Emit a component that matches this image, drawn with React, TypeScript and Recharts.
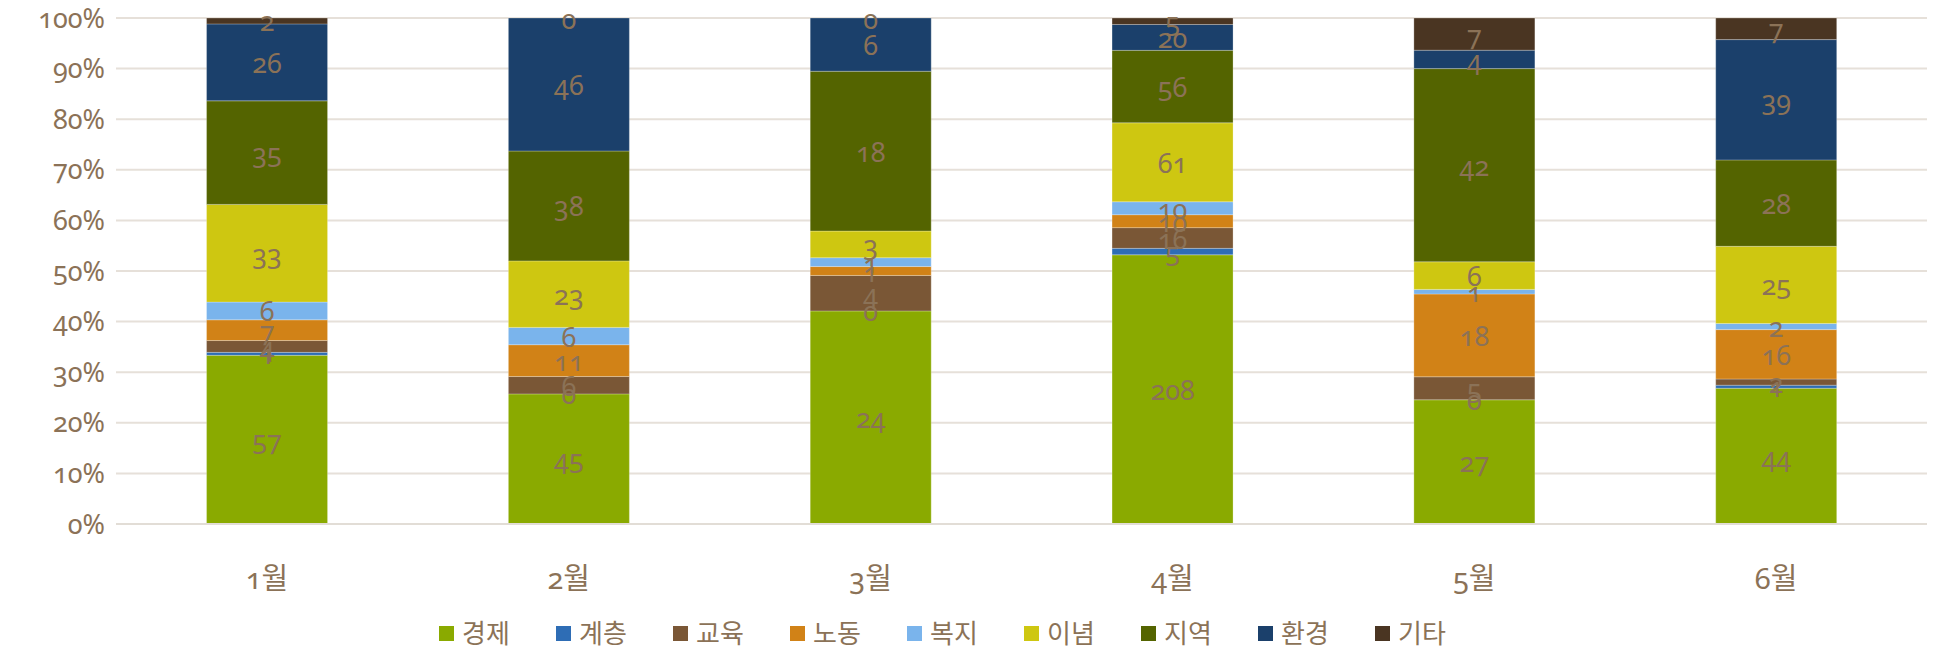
import { Bar, BarChart, CartesianGrid, LabelList, XAxis, YAxis } from "recharts";

const months = ["1월", "2월", "3월", "4월", "5월", "6월"];

const 경제 = [57, 45, 24, 208, 27, 44];
const 계층 = [1, 0, 0, 5, 0, 1];
const 교육 = [4, 6, 4, 16, 5, 2];
const 노동 = [7, 11, 1, 10, 18, 16];
const 복지 = [6, 6, 1, 10, 1, 2];
const 이념 = [33, 23, 3, 61, 6, 25];
const 지역 = [35, 38, 18, 56, 42, 28];
const 환경 = [26, 46, 6, 20, 4, 39];
const 기타 = [2, 0, 0, 5, 7, 7];

const yTicks = [0, 0.1, 0.2, 0.3, 0.4, 0.5, 0.6, 0.7, 0.8, 0.9, 1];

const series = [
  { key: "경제", values: 경제, color: "#8aaa00" },
  { key: "계층", values: 계층, color: "#2e6db5" },
  { key: "교육", values: 교육, color: "#7a5736" },
  { key: "노동", values: 노동, color: "#d18217" },
  { key: "복지", values: 복지, color: "#7ab4ec" },
  { key: "이념", values: 이념, color: "#cec711" },
  { key: "지역", values: 지역, color: "#546400" },
  { key: "환경", values: 환경, color: "#1b406b" },
  { key: "기타", values: 기타, color: "#4a3522" },
];

const data = months.map((m, i) => {
  const row: Record<string, string | number> = { month: m };
  series.forEach((s) => {
    row[s.key] = s.values[i];
  });
  return row;
});

const totals = months.map((_, i) => series.reduce((sum, s) => sum + s.values[i], 0));

const textColor = "#8b7257";
const font = "'Noto Sans', 'Noto Sans CJK KR', sans-serif";
const oldNums = { fontVariantNumeric: "oldstyle-nums" };

// all value labels are drawn from the 경제 bar (never zero), so zero-height
// segments still get their "0" label like the original
function StackLabels(props: any) {
  const { x, y, width, height, index } = props;
  const i = index;
  const bottom = Number(y) + Number(height);
  const unit = Number(height) / (경제[i] / totals[i]);
  const cx = Number(x) + Number(width) / 2;
  let cum = 0;
  return (
    <g>
      {series.map((s) => {
        const frac = s.values[i] / totals[i];
        const mid = cum + frac / 2;
        cum += frac;
        return (
          <text
            key={s.key}
            x={cx}
            y={bottom - mid * unit}
            textAnchor="middle"
            dominantBaseline="central"
            fill={textColor}
            fontSize={27}
            fontFamily={font}
            style={oldNums}
          >
            {s.values[i]}
          </text>
        );
      })}
    </g>
  );
}

export default function App(): JSX.Element {
  return (
    <div style={{ position: "absolute", left: 0, top: 0, width: 1939, height: 650, background: "#fff", fontFamily: font }}>
      <BarChart
        width={1939}
        height={650}
        data={data}
        stackOffset="expand"
        barCategoryGap="30%"
        margin={{ top: 18, right: 12, bottom: 0, left: 0 }}
      >
        <CartesianGrid vertical={false} stroke="#e6e0d9" strokeWidth={2} />
        <XAxis
          dataKey="month"
          height={126}
          tickSize={0}
          tickMargin={44}
          axisLine={{ stroke: "#e2ddd6", strokeWidth: 2 }}
          tick={{ fill: textColor, fontSize: 29, fontFamily: font, style: oldNums }}
        />
        <YAxis
          width={116}
          domain={[0, 1]}
          ticks={yTicks}
          tickSize={0}
          tickMargin={11}
          axisLine={false}
          tickFormatter={(v: number) => `${Math.round(v * 100)}%`}
          tick={{ fill: textColor, fontSize: 27, fontFamily: font, style: oldNums }}
        />
        {series.map((s, si) => (
          <Bar
            key={s.key}
            dataKey={s.key}
            stackId="a"
            fill={s.color}
            stroke="#ffffff"
            strokeOpacity={0.25}
            strokeWidth={1}
            isAnimationActive={false}
          >
            {si === 0 ? <LabelList dataKey={s.key} content={StackLabels} /> : null}
          </Bar>
        ))}
      </BarChart>
      <div
        style={{
          position: "absolute",
          left: 439,
          top: 617,
          display: "flex",
          alignItems: "center",
          height: 32,
        }}
      >
        {series.map((s) => (
          <div key={s.key} style={{ width: 117, display: "flex", alignItems: "center" }}>
            <span style={{ display: "inline-block", width: 15, height: 15, background: s.color, marginRight: 8 }} />
            <span style={{ color: textColor, fontSize: 26, lineHeight: "32px" }}>{s.key}</span>
          </div>
        ))}
      </div>
    </div>
  );
}
